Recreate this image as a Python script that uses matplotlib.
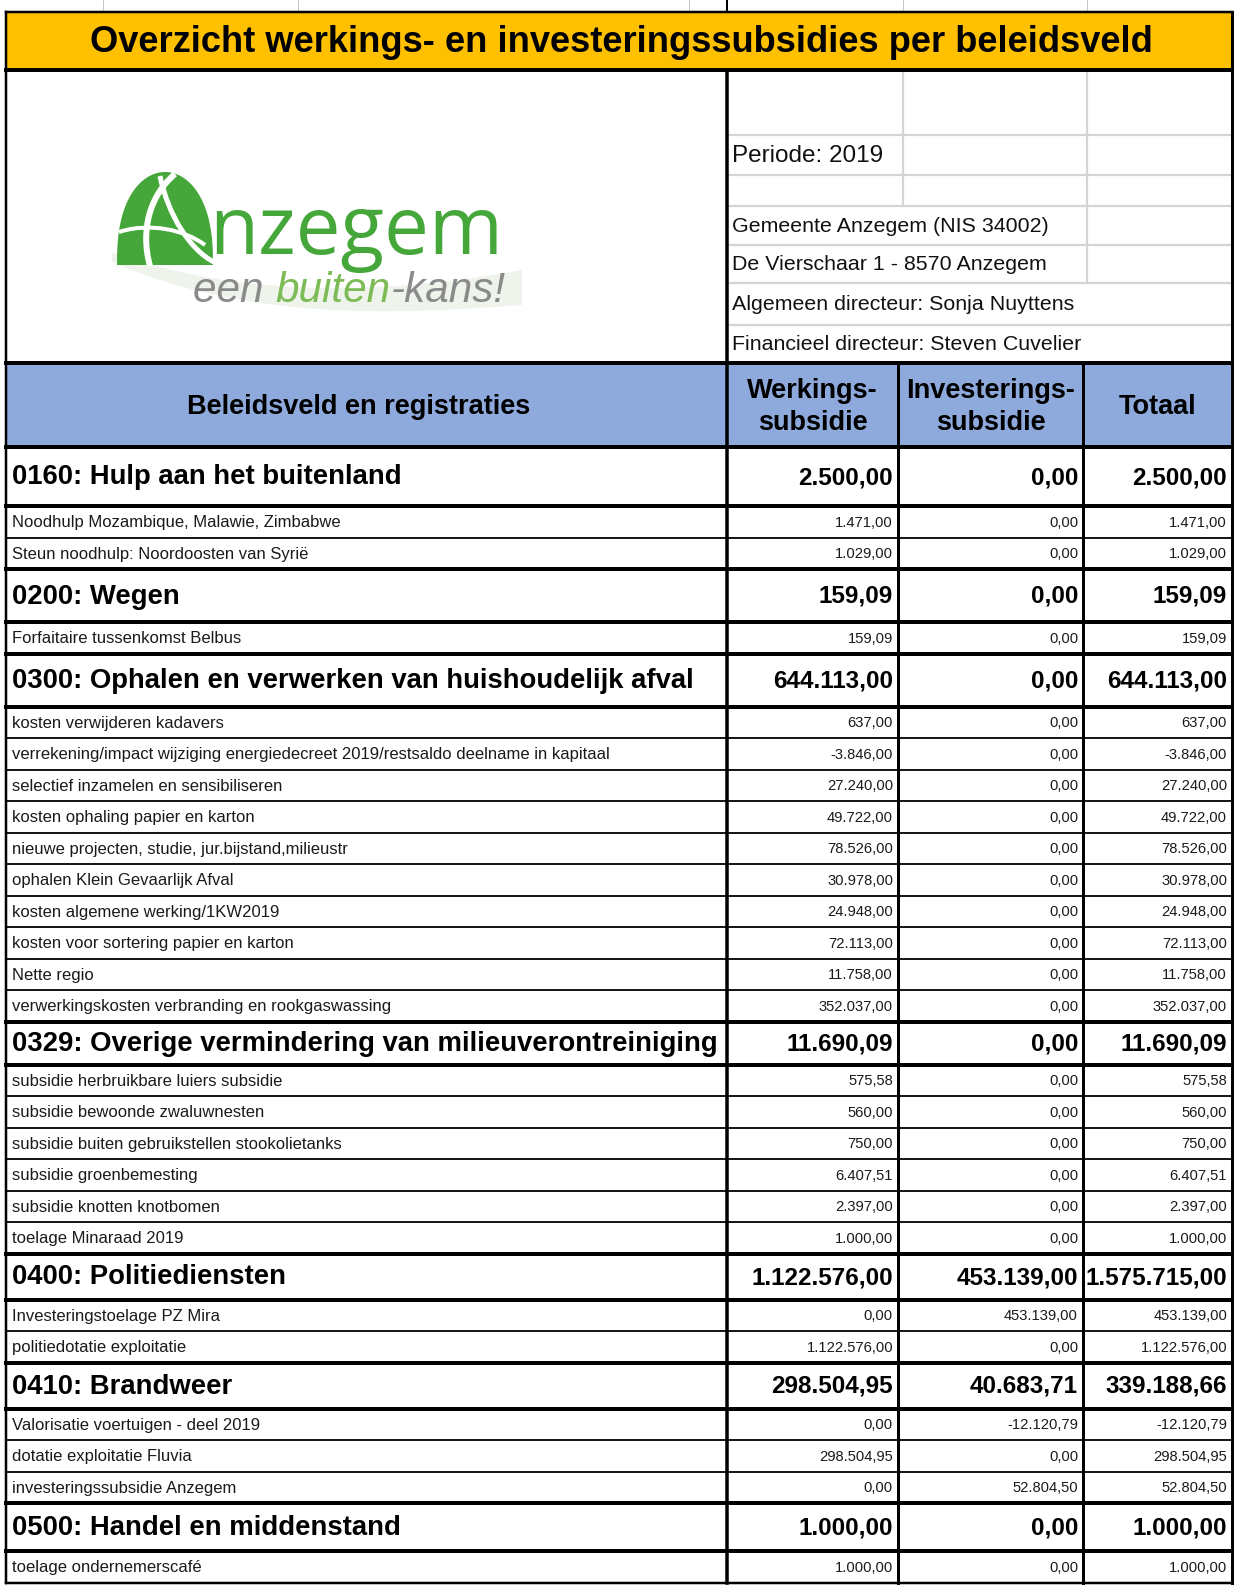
import matplotlib
matplotlib.use("Agg")
import matplotlib.pyplot as plt
from matplotlib.patches import Rectangle, Polygon, PathPatch
from matplotlib.path import Path
import numpy as np

# ---------------- data ----------------
title = "Overzicht werkings- en investeringssubsidies per beleidsveld"
info_lines = ["Periode: 2019", "Gemeente Anzegem (NIS 34002)", "De Vierschaar 1 - 8570 Anzegem",
              "Algemeen directeur: Sonja Nuyttens", "Financieel directeur: Steven Cuvelier"]
col_headers = ["Beleidsveld en registraties", "Werkings-\nsubsidie", "Investerings-\nsubsidie", "Totaal"]

labels = [
    "0160: Hulp aan het buitenland",
    "Noodhulp Mozambique, Malawie, Zimbabwe",
    "Steun noodhulp: Noordoosten van Syrië",
    "0200: Wegen",
    "Forfaitaire tussenkomst Belbus",
    "0300: Ophalen en verwerken van huishoudelijk afval",
    "kosten verwijderen kadavers",
    "verrekening/impact wijziging energiedecreet 2019/restsaldo deelname in kapitaal",
    "selectief inzamelen en sensibiliseren",
    "kosten ophaling papier en karton",
    "nieuwe projecten, studie, jur.bijstand,milieustr",
    "ophalen Klein Gevaarlijk Afval",
    "kosten algemene werking/1KW2019",
    "kosten voor sortering papier en karton",
    "Nette regio",
    "verwerkingskosten verbranding en rookgaswassing",
    "0329: Overige vermindering van milieuverontreiniging",
    "subsidie herbruikbare luiers subsidie",
    "subsidie bewoonde zwaluwnesten",
    "subsidie buiten gebruikstellen stookolietanks",
    "subsidie groenbemesting",
    "subsidie knotten knotbomen",
    "toelage Minaraad 2019",
    "0400: Politiediensten",
    "Investeringstoelage PZ Mira",
    "politiedotatie exploitatie",
    "0410: Brandweer",
    "Valorisatie voertuigen - deel 2019",
    "dotatie exploitatie Fluvia",
    "investeringssubsidie Anzegem",
    "0500: Handel en middenstand",
    "toelage ondernemerscafé",
]
is_group = [1, 0, 0, 1, 0, 1, 0, 0, 0, 0, 0, 0, 0, 0, 0, 0, 1, 0, 0, 0, 0, 0, 0, 1, 0, 0, 1, 0, 0, 0, 1, 0]
werking = [2500.00, 1471.00, 1029.00, 159.09, 159.09, 644113.00, 637.00, -3846.00, 27240.00, 49722.00,
           78526.00, 30978.00, 24948.00, 72113.00, 11758.00, 352037.00, 11690.09, 575.58, 560.00, 750.00,
           6407.51, 2397.00, 1000.00, 1122576.00, 0.00, 1122576.00, 298504.95, 0.00, 298504.95, 0.00,
           1000.00, 1000.00]
investering = [0.00, 0.00, 0.00, 0.00, 0.00, 0.00, 0.00, 0.00, 0.00, 0.00,
               0.00, 0.00, 0.00, 0.00, 0.00, 0.00, 0.00, 0.00, 0.00, 0.00,
               0.00, 0.00, 0.00, 453139.00, 453139.00, 0.00, 40683.71, -12120.79, 0.00, 52804.50,
               0.00, 0.00]
totaal = [2500.00, 1471.00, 1029.00, 159.09, 159.09, 644113.00, 637.00, -3846.00, 27240.00, 49722.00,
          78526.00, 30978.00, 24948.00, 72113.00, 11758.00, 352037.00, 11690.09, 575.58, 560.00, 750.00,
          6407.51, 2397.00, 1000.00, 1575715.00, 453139.00, 1122576.00, 339188.66, -12120.79, 298504.95, 52804.50,
          1000.00, 1000.00]

# ---------------- layout (pixels) ----------------
W, H = 1235, 1587
X0, X1, X2, X3, X4 = 6, 727, 898, 1083, 1232
Y_TITLE0, Y_TITLE1 = 12, 70
Y_HDR0, Y_HDR1 = 363, 447
SUB_H = 31.5
GROUP_HEIGHTS = [59, 53, 53, 43, 46, 46, 48]

YELLOW = "#FFC000"
BLUE = "#8EA9DB"
GREY = "#D4D4D4"
GREEN = "#45A73A"
FONT = ["Liberation Sans", "DejaVu Sans"]
PX = 0.72  # points per pixel at dpi 100

fig = plt.figure(figsize=(W / 100, H / 100), dpi=100)
ax = fig.add_axes([0, 0, 1, 1])
ax.set_xlim(0, W)
ax.set_ylim(H, 0)
ax.axis("off")
fig.canvas.draw()
renderer = fig.canvas.get_renderer()


def hline(y, xa, xb, px, color="black", z=5):
    ax.plot([xa, xb], [y, y], color=color, lw=px * PX, solid_capstyle="projecting", zorder=z)


def vline(x, ya, yb, px, color="black", z=5):
    ax.plot([x, x], [ya, yb], color=color, lw=px * PX, solid_capstyle="projecting", zorder=z)


def fmt(v):
    s = f"{v:,.2f}"
    return s.replace(",", "X").replace(".", ",").replace("X", ".")


def text_w(t):
    return t.get_window_extent(renderer=renderer).width


def fit(t, target):
    t.set_fontsize(t.get_fontsize() * target / text_w(t))


# small excel grid ticks above the title
for gx in [103, 298, 689, 903, 1087]:
    vline(gx, 0, Y_TITLE0, 1, color="#C8C8C8", z=1)
vline(X1, 0, Y_TITLE0, 2, z=1)

# ---------------- title ----------------
ax.add_patch(Rectangle((X0, Y_TITLE0), X4 - X0, Y_TITLE1 - Y_TITLE0, facecolor=YELLOW, edgecolor="none", zorder=0))
t = ax.text((X0 + X4) / 2 + 2, (Y_TITLE0 + Y_TITLE1) / 2 + 1, title, ha="center", va="center",
            fontsize=22, fontweight="bold", family=FONT, zorder=6)
fit(t, 1061)

# ---------------- info area ----------------
info_rows = [70, 135, 175, 206, 245, 283, 325, Y_HDR0]
for y in info_rows[1:-1]:
    hline(y, X1, X4, 2.2, color=GREY, z=2)
vline(903, 70, 206, 2.2, color=GREY, z=2)
vline(1087, 70, 283, 2.2, color=GREY, z=2)
info_pos = [(info_rows[1] + info_rows[2]) / 2, (info_rows[3] + info_rows[4]) / 2,
            (info_rows[4] + info_rows[5]) / 2, (info_rows[5] + info_rows[6]) / 2,
            (info_rows[6] + info_rows[7]) / 2]
for i, (txt, yy) in enumerate(zip(info_lines, info_pos)):
    ax.text(732, yy + 1, txt, ha="left", va="center", fontsize=17.5 if i == 0 else 15.4,
            family=FONT, color="#111111", zorder=6)

# ---------------- logo ----------------
sw = Path([(112, 252), (250, 302), (400, 292), (522, 270),
           (522, 305), (400, 314), (250, 322), (112, 262), (112, 252)],
          [Path.MOVETO, Path.CURVE4, Path.CURVE4, Path.CURVE4, Path.LINETO,
           Path.CURVE4, Path.CURVE4, Path.CURVE4, Path.CLOSEPOLY])
ax.add_patch(PathPatch(sw, facecolor="#EEF3EB", edgecolor="none", zorder=1))
th = np.linspace(0, np.pi, 80)
dome = np.column_stack([165 + 48 * np.cos(th), 265 - 93 * np.sin(th) ** 0.8])
ax.add_patch(Polygon(dome, closed=True, facecolor=GREEN, edgecolor="none", zorder=2))
rib1 = Path([(150, 266), (140, 230), (150, 195), (175, 174)], [Path.MOVETO] + [Path.CURVE4] * 3)
rib2 = Path([(160, 176), (168, 215), (190, 250), (214, 262)], [Path.MOVETO] + [Path.CURVE4] * 3)
rib3 = Path([(119, 232), (150, 222), (185, 230), (205, 245)], [Path.MOVETO] + [Path.CURVE4] * 3)
for r, w in [(rib1, 6), (rib2, 5), (rib3, 4)]:
    ax.add_patch(PathPatch(r, facecolor="none", edgecolor="white", lw=w * PX, zorder=3))
tz = ax.text(209, 254, "nzegem", ha="left", va="baseline", fontsize=60, color=GREEN,
             family=["Open Sans", "DejaVu Sans"], fontweight="medium", zorder=3)
fit(tz, 294)
parts = [("een ", "#8A8A8A"), ("buiten", "#7CBB55"), ("-kans!", "#8A8A8A")]
tmp = ax.text(0, 0, "".join(p for p, _ in parts), fontsize=23, style="italic", family=FONT)
scale = 312 / text_w(tmp)
tmp.remove()
xx = 193
for part, col in parts:
    tp = ax.text(xx, 302, part, ha="left", va="baseline", fontsize=23 * scale, style="italic",
                 color=col, family=FONT, zorder=3)
    xx += text_w(tp)

# ---------------- column headers ----------------
ax.add_patch(Rectangle((X0, Y_HDR0), X4 - X0, Y_HDR1 - Y_HDR0, facecolor=BLUE, edgecolor="none", zorder=0))
xcenters = [(X0 + X1) / 2 - 8, (X1 + X2) / 2, (X2 + X3) / 2, (X3 + X4) / 2]
for h, xc in zip(col_headers, xcenters):
    ax.text(xc, (Y_HDR0 + Y_HDR1) / 2 + 2, h, ha="center", va="center", fontsize=19.5,
            fontweight="bold", family=FONT, linespacing=1.25, zorder=6)

# ---------------- body rows ----------------
heights = []
gi = 0
for g in is_group:
    if g:
        heights.append(GROUP_HEIGHTS[gi])
        gi += 1
    else:
        heights.append(SUB_H)
tops = Y_HDR1 + np.concatenate([[0], np.cumsum(heights)[:-1]])
bottom = Y_HDR1 + sum(heights)

for i, (lab, g, a, b, c) in enumerate(zip(labels, is_group, werking, investering, totaal)):
    y0 = tops[i]
    yc = y0 + heights[i] / 2 + 1
    if g:
        ax.text(X0 + 6, yc, lab, ha="left", va="center", fontsize=19.8, fontweight="bold", family=FONT, zorder=6)
        for v, xr in zip([a, b, c], [X2, X3, X4]):
            ax.text(xr - 5, yc, fmt(v), ha="right", va="center", fontsize=17.5, fontweight="bold",
                    family=FONT, zorder=6)
    else:
        ax.text(X0 + 6, yc, lab, ha="left", va="center", fontsize=12, family=FONT, color="#1a1a1a", zorder=6)
        for v, xr in zip([a, b, c], [X2, X3, X4]):
            ax.text(xr - 5, yc, fmt(v), ha="right", va="center", fontsize=10.6,
                    family=FONT, color="#1a1a1a", zorder=6)
    thick = g or (i > 0 and is_group[i - 1])
    hline(y0, X0, X4, 4 if thick else 1.8)

# ---------------- frame lines ----------------
hline(Y_TITLE0, X0, X4, 2.5)
hline(Y_TITLE1, X0, X4, 4)
hline(Y_HDR0, X0, X4, 4)
hline(Y_HDR1, X0, X4, 4)
hline(bottom, X0, X4, 2.5)
vline(X0, Y_TITLE0, bottom, 2.5)
vline(X4, Y_TITLE0, bottom, 3)
vline(X1, Y_TITLE1, bottom, 3.5)
vline(X2, Y_HDR0, bottom, 3)
vline(X3, Y_HDR0, bottom, 3)

fig.savefig("out.png", dpi=100, facecolor="white")
